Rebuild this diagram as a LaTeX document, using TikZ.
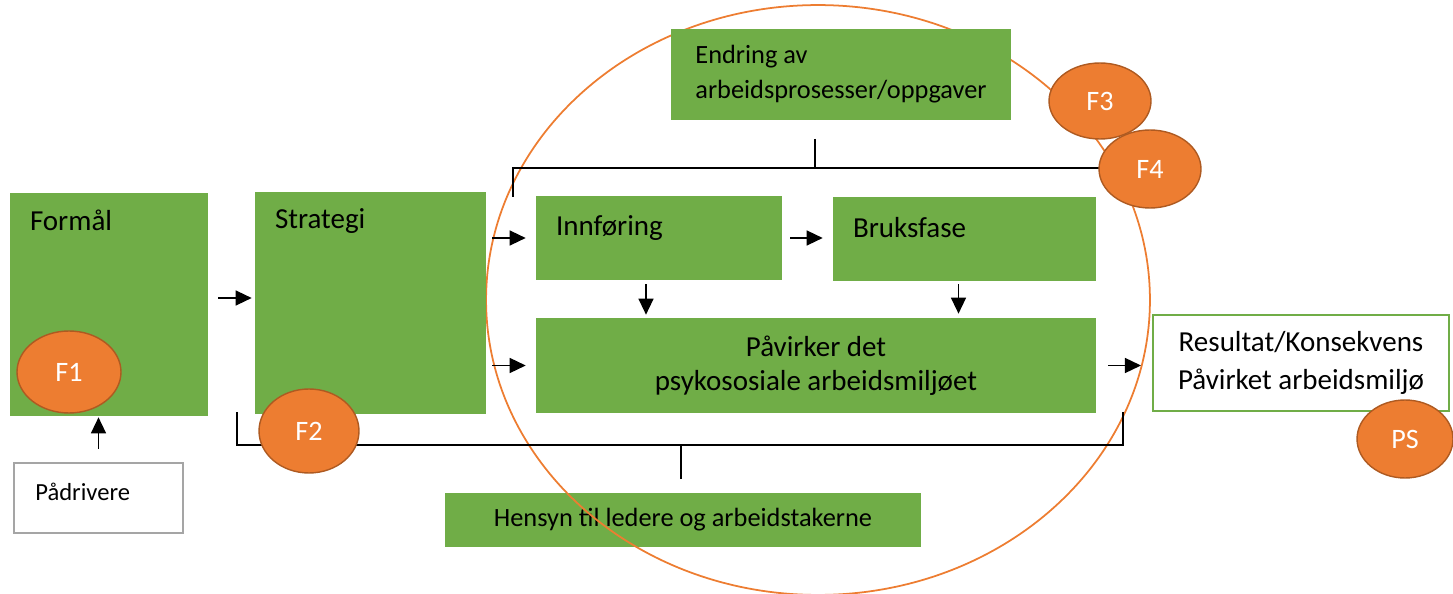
\documentclass[tikz,border=0pt]{standalone}
\usepackage{fontspec}
\setmainfont{Carlito}
\usetikzlibrary{arrows.meta,shapes,positioning,calc}
\definecolor{mygreen}{RGB}{112,173,71}
\definecolor{myorange}{RGB}{237,125,49}
\definecolor{mydarkorange}{RGB}{174,90,33}
\definecolor{mygray}{RGB}{165,165,165}

\begin{document}
\begin{tikzpicture}[x=0.02cm, y=-0.02cm,
    every node/.style={font=\fontsize{16.5}{19.5}\selectfont},
    gbox/.style={fill=mygreen, inner sep=0pt, align=center},
    wbox/.style={draw=#1, line width=1.2pt, fill=white, inner sep=0pt},
    lbltl/.style={anchor=north west, inner sep=0pt, xshift=0.4cm, yshift=-0.34cm},
    fmark/.style={ellipse, fill=myorange, draw=mydarkorange, line width=0.8pt,
                  text=white, inner sep=0pt, font=\fontsize{16}{18}\selectfont},
    arr/.style={-{Triangle[length=3.2mm,width=3mm]}, line width=0.8pt},
    brace/.style={line width=0.8pt}]
  \useasboundingbox (0,0) rectangle (1453,594);
  % --- box below the ring ---
  \node[gbox, minimum width=9.52cm, minimum height=1.08cm,
        font=\fontsize{15}{18}\selectfont] (hensyn) at (683,520)
        {Hensyn til ledere og arbeidstakerne};
  % --- ring ---
  \node[ellipse, draw=myorange, line width=1pt, inner sep=0pt,
        minimum width=13.28cm, minimum height=11.8cm] (ring) at (818,300) {};
  % --- left column ---
  \node[gbox, minimum width=3.96cm, minimum height=4.46cm,
        label={[lbltl]north west:Formål}] (formal) at (109,304.5) {};
  \node[wbox=mygray, minimum width=3.38cm, minimum height=1.4cm,
        label={[anchor=west, inner sep=0pt, xshift=0.44cm, yshift=0.12cm,
                font=\fontsize{14}{16}\selectfont]west:Pådrivere}] (padrivere) at (98.5,498) {};
  \node[gbox, minimum width=4.62cm, minimum height=4.44cm,
        label={[lbltl]north west:Strategi}] (strategi) at (370.5,303) {};
  % --- inside the ring ---
  \node[gbox, align=left, minimum width=6.8cm, minimum height=1.82cm,
        font=\fontsize{15}{20}\selectfont] (endring) at (841,74.5)
        {Endring av\\arbeidsprosesser/oppgaver};
  \node[gbox, minimum width=4.92cm, minimum height=1.68cm,
        label={[lbltl, yshift=-0.06cm]north west:Innføring}] (innforing) at (659,238) {};
  \node[gbox, minimum width=5.26cm, minimum height=1.68cm,
        label={[lbltl, yshift=-0.06cm]north west:Bruksfase}] (bruksfase) at (964.5,239) {};
  \node[gbox, minimum width=11.2cm, minimum height=1.9cm,
        font=\fontsize{16.5}{19.5}\selectfont] (pavirker) at (816,365.5)
        {Påvirker det\\psykososiale arbeidsmiljøet};
  % --- result ---
  \node[wbox=mygreen, align=center, minimum width=5.92cm, minimum height=1.92cm,
        font=\fontsize{16.5}{21.5}\selectfont] (resultat) at (1301,363)
        {Resultat/Konsekvens\\Påvirket arbeidsmiljø};
  % --- brackets ---
  \coordinate (bbl) at (237,412);
  \coordinate (bbr) at (1123,412);
  \coordinate (bbt) at (681,479);
  \draw[brace] (bbl) -- ++(0,33) -| (bbr);
  \draw[brace] (bbt) -- ++(0,-34);
  \coordinate (tbl) at (513,197);
  \coordinate (tbr) at (1110,168);
  \coordinate (tbt) at (815,139);
  \draw[brace] (tbl) |- (tbr);
  \draw[brace] (tbt) -- ++(0,29);
  % --- arrows ---
  \draw[arr, shorten <=0.2cm, shorten >=0.06cm]
    ([yshift=0.13cm]formal.east) -- ([yshift=0.13cm]formal.east -| strategi.west);
  \draw[arr, shorten <=0.26cm, shorten >=0.02cm]
    (padrivere.north) -- (padrivere.north |- formal.south);
  \draw[arr, shorten <=0.12cm, shorten >=0.2cm]
    (strategi.east |- innforing.west) -- (innforing.west);
  \draw[arr, shorten <=0.12cm, shorten >=0.2cm]
    (strategi.east |- pavirker.west) -- (pavirker.west);
  \draw[arr, shorten <=0.16cm, shorten >=0.2cm]
    (innforing.east) -- (innforing.east -| bruksfase.west);
  \draw[arr, shorten <=0.08cm, shorten >=0.06cm]
    ([xshift=-0.26cm]innforing.south) -- ([xshift=-0.26cm]innforing.south |- pavirker.north);
  \draw[arr, shorten <=0.06cm, shorten >=0.08cm]
    ([xshift=-0.12cm]bruksfase.south) -- ([xshift=-0.12cm]bruksfase.south |- pavirker.north);
  \draw[arr, shorten <=0.24cm, shorten >=0.22cm]
    (pavirker.east) -- (pavirker.east -| resultat.west);
  % --- markers ---
  \node[fmark, minimum width=2.08cm, minimum height=1.64cm] (f1) at (69,372) {F1};
  \node[fmark, minimum width=2.0cm, minimum height=1.68cm] (f2) at (309,431) {F2};
  \node[fmark, minimum width=2.04cm, minimum height=1.52cm] (f3) at (1100,101) {F3};
  \node[fmark, minimum width=2.04cm, minimum height=1.56cm] (f4) at (1150,169) {F4};
  \node[fmark, minimum width=1.92cm, minimum height=1.56cm] (ps) at (1405,439) {PS};
\end{tikzpicture}
\end{document}
